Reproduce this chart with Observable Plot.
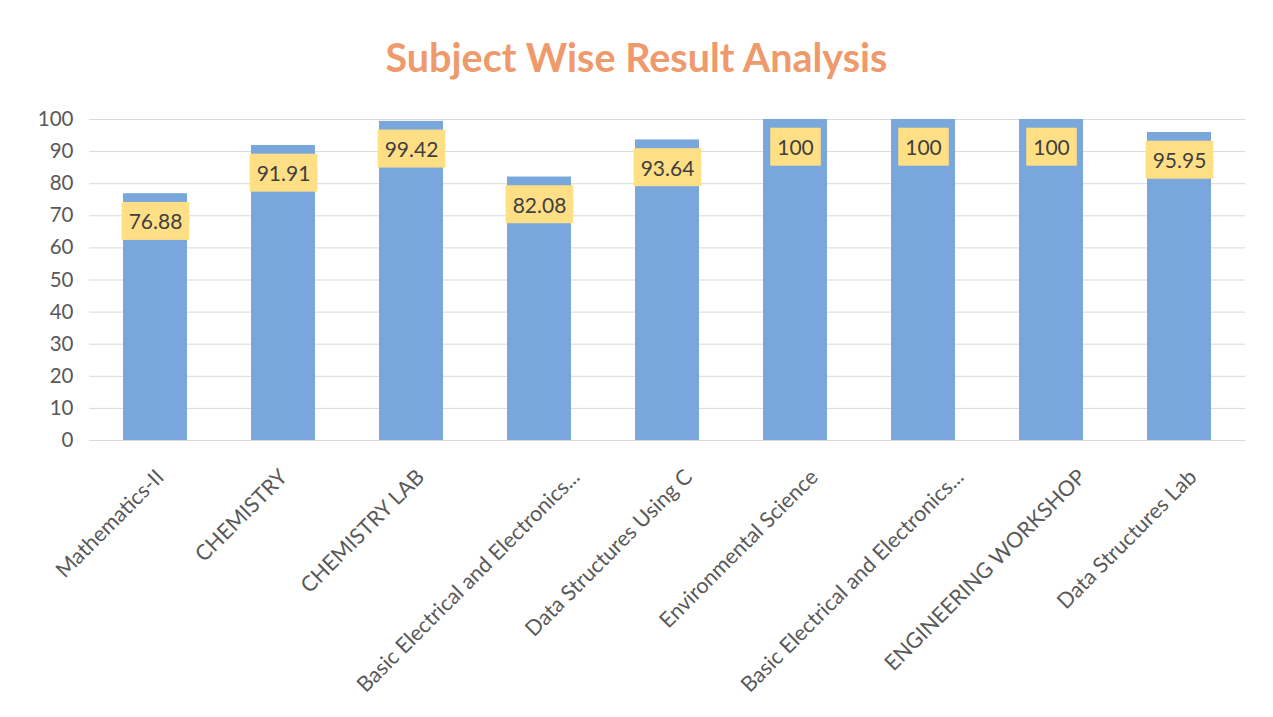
<!DOCTYPE html>
<html><head><meta charset="utf-8">
<script src="https://cdn.jsdelivr.net/npm/d3@7"></script>
<script src="https://cdn.jsdelivr.net/npm/@observablehq/plot@0.6"></script>
<style>
body{margin:0;background:#fff;font-family:Lato,sans-serif;}
#title{height:80px;box-sizing:border-box;padding-top:34px;line-height:46px;text-align:center;font-size:39.5px;font-weight:bold;color:#EE9A6C;}
</style></head><body>
<div id="title">Subject Wise Result Analysis</div>
<div id="chart"></div>
<script>
const subjects = ["Mathematics-II", "CHEMISTRY", "CHEMISTRY LAB", "Basic Electrical and Electronics...", "Data Structures Using C", "Environmental Science", "Basic Electrical and Electronics...", "ENGINEERING WORKSHOP", "Data Structures Lab"];
const passPercent = [76.88, 91.91, 99.42, 82.08, 93.64, 100, 100, 100, 95.95];
const yTicks = [0, 10, 20, 30, 40, 50, 60, 70, 80, 90, 100];

const data = subjects.map((s, i) => ({i, subject: s, value: passPercent[i]}));

const plot = Plot.plot({
  width: 1273, height: 637,
  marginTop: 39, marginBottom: 277, marginLeft: 89, marginRight: 28,
  style: {fontFamily: "Lato, sans-serif", background: "#fff", overflow: "visible"},
  x: {domain: data.map(d => d.i), paddingInner: 0.5, paddingOuter: 0.245, label: null},
  y: {domain: [0, 100], label: null},
  marks: [
    Plot.gridY(yTicks, {stroke: "#d9d9d9", strokeOpacity: 1}),
    Plot.axisY({ticks: yTicks, tickSize: 0, tickPadding: 16, fontSize: 20.5, fill: "#595959", label: null}),
    Plot.barY(data, {x: "i", y: "value", fill: "#79A7DC"}),
    Plot.ruleY([0], {stroke: "#d9d9d9"}),
    Plot.axisX({tickSize: 0, tickPadding: 33, tickRotate: -45, tickFormat: i => subjects[i], fontSize: 21.5, fill: "#595959", label: null}),
    Plot.text(data, {x: "i", y: "value", text: d => String(d.value), dy: 29, fontSize: 21, fill: "#404040"})
  ]
});
document.getElementById("chart").appendChild(plot);

// spreadsheet-style placement of rotated category labels: longer labels sit further right
d3.select(plot).selectAll('g[aria-label="x-axis tick label"] text').each(function() {
  const L = this.getComputedTextLength();
  const shift = 0.196 * L - 23;
  this.setAttribute("transform", `translate(${shift},0) ` + (this.getAttribute("transform") || ""));
});

d3.select(plot).selectAll('g[aria-label="text"] text').each(function() {
  const b = this.getBBox();
  const cy = b.y + b.height / 2;
  d3.select(this.parentNode).insert("rect", () => this)
    .attr("x", b.x - 7).attr("y", cy - 19)
    .attr("width", b.width + 14).attr("height", 38)
    .attr("fill", "#FEDF85")
    .attr("transform", this.getAttribute("transform"));
});
</script>
</body></html>
